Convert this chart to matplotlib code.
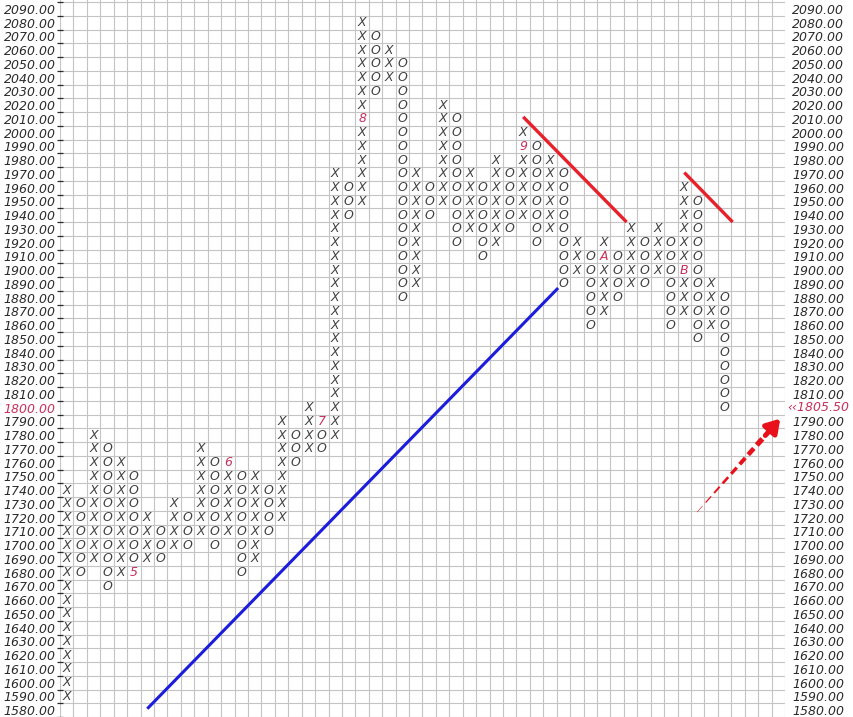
import numpy as np
import matplotlib.pyplot as plt
from matplotlib.transforms import blended_transform_factory

# point & figure chart, box size 10
box = 10
col_type = list("XO" * 25)
col_low = [1590, 1680, 1690, 1670, 1680, 1680, 1690, 1690, 1700, 1700,
           1710, 1700, 1710, 1680, 1690, 1710, 1720, 1760, 1770, 1770,
           1780, 1940, 1950, 2030, 2040, 1880, 1890, 1940, 1950, 1920,
           1930, 1910, 1920, 1930, 1940, 1920, 1930, 1890, 1900, 1860,
           1870, 1880, 1890, 1890, 1900, 1860, 1870, 1850, 1860, 1800]
col_high = [1740, 1730, 1780, 1770, 1760, 1750, 1720, 1710, 1730, 1720,
            1770, 1760, 1760, 1750, 1750, 1740, 1790, 1780, 1800, 1790,
            1970, 1960, 2080, 2070, 2060, 2050, 1970, 1960, 2020, 2010,
            1970, 1960, 1980, 1970, 2000, 1990, 1980, 1970, 1920, 1910,
            1920, 1910, 1930, 1920, 1930, 1920, 1960, 1950, 1890, 1880]

# month markers replace the first box of the month
month_col = [5, 12, 19, 22, 34, 40, 46]
month_price = [1680, 1760, 1790, 2010, 1990, 1910, 1900]
month_label = ['5', '6', '7', '8', '9', 'A', 'B']

price_rows = np.arange(1580, 2091, box)
last_price = 1805.50

# trend lines (column, price)
support_x = [6.0, 36.6]
support_y = [1581, 1887]
resist1_x = [34.0, 41.7]
resist1_y = [2011.5, 1935]
resist2_x = [46.0, 49.6]
resist2_y = [1971, 1935]
arrow_x = [46.95, 53.15]
arrow_y = [1724, 1792]

n_cols = 54
mark_color = '#404040'
label_color = '#2a2a2a'
month_color = '#c8305a'
grid_color = '#c4c4c4'

fig = plt.figure(figsize=(8.54, 7.17), dpi=100)
ax = fig.add_axes([60 / 854, 0, 725 / 854, 1])
ax.set_xlim(-0.5, n_cols - 0.5)
ax.set_ylim(1575.8, 2096.5)
for s in ax.spines.values():
    s.set_visible(False)

ax.set_xticks([])
ax.set_xticks(np.arange(-0.5, n_cols, 1), minor=True)
ax.set_yticks(price_rows)
ax.set_yticks(np.arange(1575, 2100, box), minor=True)
ax.grid(which='minor', color=grid_color, lw=0.8)
ax.tick_params(axis='x', which='both', length=0, labelbottom=False)
ax.tick_params(axis='y', which='major', length=0, pad=3, left=False)
ax.tick_params(axis='y', which='minor', left=True, right=True, length=5,
               direction='inout', color=label_color, width=0.9)

cur_row = np.floor(last_price / box) * box
font = dict(family='DejaVu Sans', style='italic', size=9)
ax.set_yticklabels([f"{v:.2f}" for v in price_rows], **font, color=label_color)
for v, lab in zip(price_rows, ax.get_yticklabels()):
    if v == cur_row:
        lab.set_color(month_color)

ax2 = ax.twinx()
ax2.set_ylim(ax.get_ylim())
for s in ax2.spines.values():
    s.set_visible(False)
ax2.set_yticks(price_rows)
ax2.set_yticklabels(["" if v == cur_row else f"{v:.2f}" for v in price_rows],
                    **font, color=label_color)
ax2.tick_params(axis='y', length=0, pad=5)
trans = blended_transform_factory(ax.transAxes, ax.transData)
ax.text(1.003, cur_row, "\u2039\u2039" + f"{last_price:.2f}", transform=trans,
        ha='left', va='center', color=month_color, **font)

# boxes
markers = {(c, p): m for c, p, m in zip(month_col, month_price, month_label)}
for c, (t, lo, hi) in enumerate(zip(col_type, col_low, col_high)):
    for p in range(lo, hi + box, box):
        if (c, p) in markers:
            ax.text(c, p, markers[(c, p)], ha='center', va='center',
                    color=month_color, family='DejaVu Sans', style='italic', size=9)
        else:
            ax.text(c, p, t, ha='center', va='center', color=mark_color,
                    family='DejaVu Sans', style='italic', size=9)

# trend lines
ax.plot(support_x, support_y, color='#1c1cdc', lw=2.2, solid_capstyle='butt')
ax.plot(resist1_x, resist1_y, color='#e8202a', lw=2.4, solid_capstyle='butt')
ax.plot(resist2_x, resist2_y, color='#e8202a', lw=2.4, solid_capstyle='butt')

# dashed arrow toward last price, growing thicker
n_dash = 8
t_edges = np.linspace(0, 0.82, n_dash + 1)
for i in range(n_dash):
    t0 = t_edges[i]
    t1 = t0 + (t_edges[i + 1] - t_edges[i]) * 0.65
    xs = [arrow_x[0] + t0 * (arrow_x[1] - arrow_x[0]), arrow_x[0] + t1 * (arrow_x[1] - arrow_x[0])]
    ys = [arrow_y[0] + t0 * (arrow_y[1] - arrow_y[0]), arrow_y[0] + t1 * (arrow_y[1] - arrow_y[0])]
    ax.plot(xs, ys, color='#e8101a', lw=0.4 + 3.4 * i / (n_dash - 1), solid_capstyle='butt')
ts = 0.82
ax.annotate('', xy=(arrow_x[1], arrow_y[1]),
            xytext=(arrow_x[0] + ts * (arrow_x[1] - arrow_x[0]), arrow_y[0] + ts * (arrow_y[1] - arrow_y[0])),
            arrowprops=dict(arrowstyle='-|>,head_length=0.8,head_width=0.5',
                            color='#e8101a', lw=3.6, shrinkA=0, shrinkB=0))

fig.savefig('out.png', dpi=100)
